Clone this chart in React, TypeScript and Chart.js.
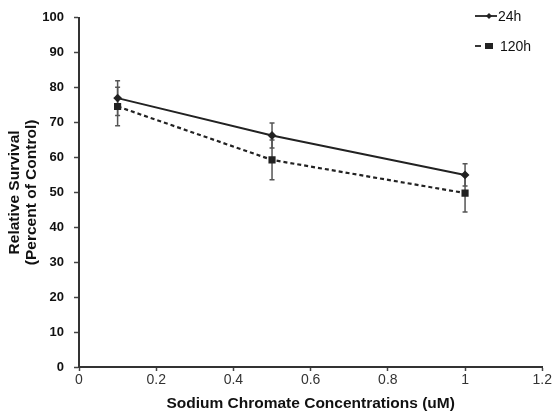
import React, { useEffect, useRef } from "react";
import { Chart, registerables } from "chart.js";

Chart.register(...registerables);

// Sodium chromate concentration (uM)
const concentrations = [0.1, 0.5, 1];
// Relative survival, percent of control
const survival24h = [77, 66.3, 55];
const survival120h = [74.6, 59.3, 49.8];
// Standard deviation of each point
const error24h = [5, 3.6, 3.2];
const error120h = [5.5, 5.7, 5.4];

const xTicks = [0, 0.2, 0.4, 0.6, 0.8, 1, 1.2];
const seriesLabels = ["24h", "120h"];

const FONT = "Liberation Sans, Arial, Helvetica, sans-serif";

const errorBarPlugin = {
  id: "errorBars",
  beforeDatasetsDraw(chart: any) {
    const { ctx } = chart;
    const xs = chart.scales.x;
    const ys = chart.scales.y;
    const sets = [
      { vals: survival24h, errs: error24h },
      { vals: survival120h, errs: error120h },
    ];
    ctx.save();
    ctx.strokeStyle = "#555";
    ctx.lineWidth = 1.5;
    sets.forEach(({ vals, errs }) => {
      concentrations.forEach((c, i) => {
        const px = xs.getPixelForValue(c);
        const top = ys.getPixelForValue(vals[i] + errs[i]);
        const bot = ys.getPixelForValue(vals[i] - errs[i]);
        ctx.beginPath();
        ctx.moveTo(px, top);
        ctx.lineTo(px, bot);
        ctx.moveTo(px - 2.5, top);
        ctx.lineTo(px + 2.5, top);
        ctx.moveTo(px - 2.5, bot);
        ctx.lineTo(px + 2.5, bot);
        ctx.stroke();
      });
    });
    ctx.restore();
  },
};

const legendPlugin = {
  id: "sideLegend",
  afterDraw(chart: any) {
    const { ctx } = chart;
    ctx.save();
    ctx.font = `14px ${FONT}`;
    ctx.textBaseline = "middle";
    // 24h: solid line with diamond
    let y = 16;
    ctx.strokeStyle = "#222";
    ctx.lineWidth = 1.8;
    ctx.beginPath();
    ctx.moveTo(475, y);
    ctx.lineTo(497, y);
    ctx.stroke();
    ctx.beginPath();
    ctx.moveTo(489, y - 3);
    ctx.lineTo(492, y);
    ctx.lineTo(489, y + 3);
    ctx.lineTo(486, y);
    ctx.closePath();
    ctx.fillStyle = "#222";
    ctx.fill();
    ctx.fillStyle = "#111";
    ctx.fillText(seriesLabels[0], 498, y + 1);
    // 120h: dashed line with square
    y = 46;
    ctx.beginPath();
    ctx.moveTo(475, y);
    ctx.lineTo(481, y);
    ctx.stroke();
    ctx.fillStyle = "#222";
    ctx.fillRect(485, y - 3, 8, 6);
    ctx.fillStyle = "#111";
    ctx.fillText(seriesLabels[1], 500, y + 1);
    ctx.restore();
  },
};

export default function App() {
  const canvasRef = useRef<HTMLCanvasElement | null>(null);

  useEffect(() => {
    document.body.style.margin = "0";
    const canvas = canvasRef.current;
    if (!canvas) return;
    const chart = new Chart(canvas, {
      type: "scatter",
      data: {
        datasets: [
          {
            label: seriesLabels[0],
            data: concentrations.map((c, i) => ({ x: c, y: survival24h[i] })),
            showLine: true,
            borderColor: "#222",
            backgroundColor: "#222",
            borderWidth: 2,
            pointStyle: "rectRot",
            pointRadius: 3,
          },
          {
            label: seriesLabels[1],
            data: concentrations.map((c, i) => ({ x: c, y: survival120h[i] })),
            showLine: true,
            borderColor: "#222",
            backgroundColor: "#222",
            borderWidth: 2.2,
            borderDash: [4, 3],
            pointStyle: "rect",
            pointRadius: 3.5,
          },
        ],
      },
      options: {
        animation: false,
        responsive: false,
        devicePixelRatio: 1,
        layout: { padding: { left: 0, top: 17, right: 10, bottom: 0 } },
        plugins: {
          legend: { display: false },
          tooltip: { enabled: false },
        },
        scales: {
          x: {
            type: "linear",
            min: 0,
            max: 1.2,
            afterBuildTicks: (scale: any) => {
              scale.ticks = xTicks.map((v) => ({ value: v }));
            },
            afterFit: (scale: any) => {
              scale.height = 46;
            },
            grid: {
              drawOnChartArea: false,
              drawTicks: true,
              tickLength: 4,
              color: "#444",
              tickWidth: 1.5,
            },
            border: { color: "#333", width: 2 },
            ticks: {
              color: "#333",
              padding: 1,
              maxRotation: 0,
              font: { family: FONT, size: 14 },
              callback: (v: any) => String(v),
            },
            title: {
              display: true,
              text: "Sodium Chromate Concentrations (uM)",
              color: "#111",
              padding: { top: 0, bottom: 0 },
              font: { family: FONT, size: 15.5, weight: "bold" },
            },
          },
          y: {
            min: 0,
            max: 100,
            ticks: {
              stepSize: 10,
              color: "#111",
              padding: 10,
              font: { family: FONT, size: 13, weight: "bold" },
            },
            afterFit: (scale: any) => {
              scale.width = 79;
            },
            grid: {
              drawOnChartArea: false,
              drawTicks: true,
              tickLength: 5,
              color: "#444",
              tickWidth: 1.5,
            },
            border: { color: "#333", width: 2 },
            title: {
              display: true,
              text: ["Relative Survival", "(Percent of Control)"],
              color: "#111",
              padding: { top: 6, bottom: 0 },
              font: { family: FONT, size: 15.5, weight: "bold", lineHeight: 1.1 },
            },
          },
        },
      },
      plugins: [errorBarPlugin, legendPlugin],
    });
    return () => chart.destroy();
  }, []);

  return (
    <div style={{ position: "absolute", left: 0, top: 0, width: 553, height: 413, background: "#fff" }}>
      <canvas ref={canvasRef} width={553} height={413} />
    </div>
  );
}
